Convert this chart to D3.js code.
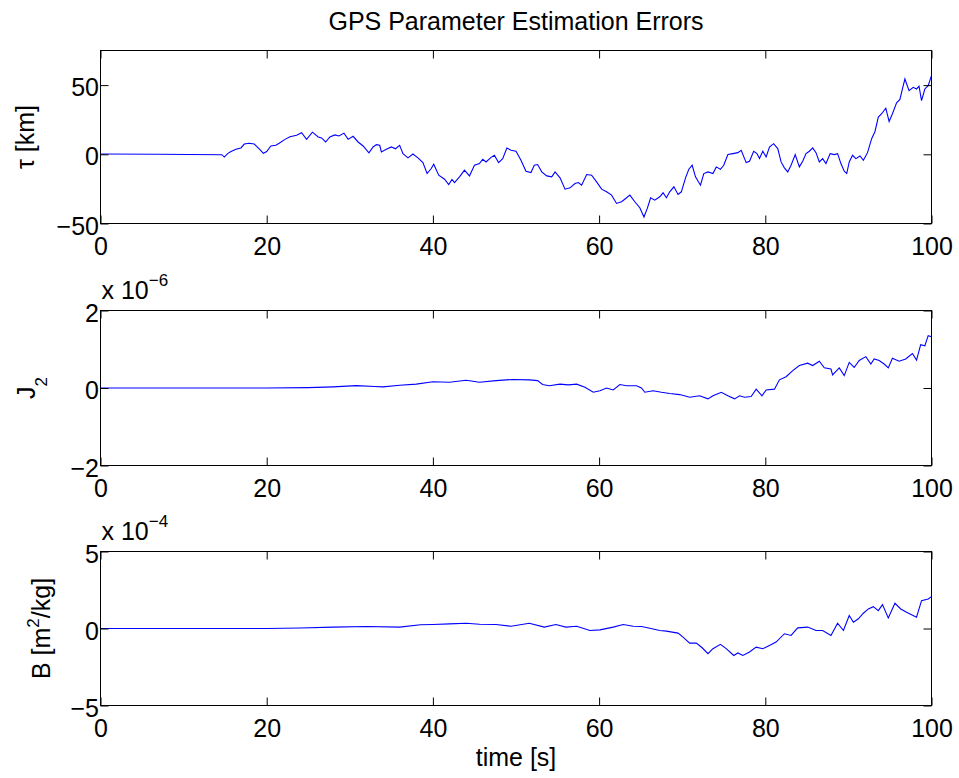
<!DOCTYPE html>
<html>
<head>
<meta charset="utf-8">
<script src="https://cdn.jsdelivr.net/npm/d3@7"></script>
<style>
  body { margin: 0; background: #ffffff; }
  svg { display: block; }
  text { font-family: "Liberation Sans", Arial, sans-serif; fill: #000; }
</style>
</head>
<body>
<svg id="chart" width="959" height="778"></svg>
<script>
const xTicks = [0, 20, 40, 60, 80, 100];

// tau [km]
const tauTicks = [-50, 0, 50];
const tauTime = [0, 7, 14.6, 14.9, 15.3, 15.7, 16.3, 16.9, 17.3, 17.9, 18.5, 19.1, 19.6, 20.0, 20.5, 21.1, 21.5, 22.2, 22.8, 23.6,
  24.2, 24.8, 25.5, 26.2, 26.6, 27.1, 27.6, 28.2, 28.7, 29.3, 29.8, 30.4, 31.0, 31.6, 32.3, 32.8, 33.2, 33.6, 33.8, 34.4,
  35.0, 35.5, 36.0, 36.4, 37.0, 37.6, 38.2, 38.8, 39.3, 39.8, 40.1, 40.7, 41.4, 41.9, 42.3, 42.6, 43.2, 43.8, 44.4, 45.0,
  45.6, 46.0, 46.4, 47.0, 47.4, 47.9, 48.4, 48.9, 49.4, 50.0, 50.6, 51.2, 51.8, 52.2, 52.6, 53.1, 53.7, 54.3, 54.7, 55.3,
  55.9, 56.5, 57.1, 57.5, 57.9, 58.5, 59.1, 59.7, 60.3, 60.9, 61.5, 62.1, 62.7, 63.2, 63.7, 64.3, 64.9, 65.4, 65.8, 66.2,
  66.7, 67.3, 67.7, 68.1, 68.5, 69.0, 69.5, 69.9, 70.4, 70.8, 71.2, 71.6, 72.2, 72.6, 73.1, 73.7, 74.1, 74.6, 75.0, 75.5,
  76.1, 76.7, 77.1, 77.7, 78.1, 78.6, 79.0, 79.3, 79.7, 80.1, 80.5, 81.0, 81.5, 81.9, 82.3, 82.7, 83.1, 83.6, 84.1, 84.5,
  84.9, 85.3, 85.7, 86.1, 86.5, 86.9, 87.3, 87.8, 88.3, 88.7, 89.1, 89.5, 89.8, 90.1, 90.5, 90.9, 91.4, 91.8, 92.3, 92.8,
  93.2, 93.6, 94.0, 94.5, 94.9, 95.3, 95.8, 96.2, 96.5, 96.8, 97.3, 97.8, 98.2, 98.5, 98.8, 99.2, 99.6, 100];
const tauValue = [0.2, 0, -0.3, -2, 0.5, 2, 3.6, 4.6, 7.4, 8, 7.4, 4, 0.7, 2, 6, 6.5, 8, 10.8, 12.7, 13.7,
  15.6, 10.8, 16, 12.5, 11.8, 8.9, 12.5, 14, 13.2, 15.3, 10.8, 13, 8.9, 6, 1, 5.3, 7, 6.5, 1.7, 3.6,
  5.3, 4, 6.5, 0.5, -2.6, 0.2, -2.6, -6, -13.9, -10.3, -7.2, -15.1, -18, -21.8, -18.2, -20.4, -16.3, -11.5, -15.6, -7.9,
  -6.7, -3.6, -5.5, -2.2, -0.7, -6, -3.1, 4.6, 2.9, 2.2, -4.3, -12.2, -13.2, -7.9, -7.4, -12.7, -15.6, -16.3, -12.7, -17,
  -25.2, -24.2, -21.1, -20.4, -22.3, -14.6, -15.1, -19.9, -25.2, -27.1, -29.5, -35.5, -34.3, -31.9, -29.5, -34.3, -38.6, -45.3, -39.1, -31.4,
  -33.1, -30.7, -27.8, -31.4, -27.1, -23.5, -29, -27.1, -17, -10.8, -7.9, -16.3, -22.3, -13.9, -12.7, -13.9, -9.1, -10.8, -7.9, -0.2,
  0.5, 1.2, 2.9, -6, -5, 2.2, 0.5, -3.1, 2.2, -1.9, 5.3, 7.7, 4.1, -5.5, -9.8, -12.7, -7.9, -0.2, -9.1, -5,
  0.5, 2.2, 4.6, 1.2, -5.5, -3.1, -6.7, 0.5, -0.2, 0.5, -6.7, -12.2, -13.9, -5.5, -0.7, -3.1, -1.2, -4.3, 1.2, 11.3,
  16.5, 26.9, 29.3, 33.3, 23.7, 29.3, 37.2, 39.6, 47.2, 54.4, 46, 48.4, 47.2, 49.2, 38.8, 47.2, 49.6, 56.8];

// J2, in units of 1e-6
const j2Exponent = -6;
const j2Ticks = [-2, 0, 2];
const j2Time = [0, 20, 25, 28, 30.8, 33, 34, 36, 38, 40, 42, 44, 45.6, 47.6, 49.6, 51.6, 52.6, 53.2, 54.0, 55.3,
  56.3, 57.3, 58.3, 59.3, 60.1, 60.9, 61.7, 62.5, 63.3, 64.5, 65.1, 65.5, 66.5, 67.5, 68.5, 69.7, 70.9, 72.1, 73.1, 73.7,
  74.7, 75.5, 76.3, 76.9, 77.5, 78.3, 78.9, 79.6, 80.1, 81.1, 81.7, 82.5, 83.3, 84.1, 85.1, 85.7, 86.5, 87.1, 87.9, 88.1,
  88.9, 89.5, 90.1, 90.7, 91.3, 92.1, 92.7, 93.1, 93.7, 94.3, 94.8, 95.3, 96.1, 96.9, 97.7, 98.2, 98.7, 99.2, 99.6, 100];
const j2Value = [0, 0, 0.01, 0.03, 0.06, 0.04, 0.03, 0.07, 0.1, 0.16, 0.15, 0.2, 0.15, 0.19, 0.22, 0.21, 0.19, 0.09, 0.06, 0.1,
  0.08, 0.1, 0.02, -0.11, -0.07, 0, -0.05, 0.09, 0.06, 0.06, 0, -0.11, -0.07, -0.11, -0.14, -0.17, -0.24, -0.2, -0.28, -0.2,
  -0.11, -0.2, -0.28, -0.2, -0.24, -0.22, -0.03, -0.2, -0.05, -0.03, 0.21, 0.29, 0.45, 0.58, 0.64, 0.58, 0.69, 0.52, 0.49, 0.34,
  0.52, 0.32, 0.66, 0.53, 0.71, 0.81, 0.62, 0.75, 0.71, 0.62, 0.52, 0.77, 0.69, 0.75, 0.89, 0.72, 1.12, 1.09, 1.35, 1.32];

// B [m^2/kg], in units of 1e-4
const bExponent = -4;
const bTicks = [-5, 0, 5];
const bTime = [0, 20, 24, 28, 32, 36, 38.5, 40, 42, 44, 45.6, 47.6, 49.4, 51.6, 53.4, 54.8, 56.0, 57.3, 58.9, 60.1,
  61.7, 62.9, 64.1, 65.1, 66.1, 67.3, 68.1, 69.5, 70.1, 70.9, 71.7, 72.4, 73.1, 73.7, 74.6, 75.3, 76.2, 76.7, 77.3, 78.1,
  78.9, 79.7, 80.5, 81.3, 82.3, 83.1, 83.9, 85.1, 86.1, 86.9, 87.9, 88.7, 89.4, 90.1, 90.6, 91.2, 91.8, 92.4, 93.0, 93.6,
  94.1, 94.8, 95.6, 96.3, 97.0, 98.2, 98.8, 99.6, 100];
const bValue = [0, 0, 0.03, 0.09, 0.13, 0.09, 0.24, 0.26, 0.3, 0.34, 0.28, 0.26, 0.15, 0.34, 0.09, 0.26, 0.09, 0.15, -0.13, -0.09,
  0.09, 0.26, 0.15, 0.13, 0.02, -0.13, -0.17, -0.3, -0.56, -0.95, -0.95, -1.25, -1.64, -1.31, -1.03, -1.31, -1.75, -1.59, -1.75, -1.53,
  -1.21, -1.31, -1.1, -0.88, -0.34, -0.45, 0.04, 0.09, -0.13, -0.13, -0.45, 0.34, -0.13, 0.84, 0.41, 0.63, 0.99, 1.27, 1.42, 1.16,
  1.55, 0.69, 1.64, 1.27, 1.06, 0.73, 1.81, 1.92, 2.07];

const drawChart = () => {
  let svg = d3.select("#chart");
  let left = 100.5, right = 931.5;
  let fontSize = 25;

  svg.append("rect").attr("width", 959).attr("height", 778).attr("fill", "#ffffff");

  let x = d3.scaleLinear().domain([0, 100]).range([left, right]);

  const drawPanel = (p) => {
    let y = d3.scaleLinear().domain(p.domain).range([p.bottom, p.top]);
    let g = svg.append("g");

    let pts = p.time.map((t, i) => [t, p.value[i]]);
    g.append("path")
      .datum(pts)
      .attr("fill", "none")
      .attr("stroke", "#0000ff")
      .attr("stroke-width", 1.1)
      .attr("d", d3.line().x(d => x(d[0])).y(d => y(d[1])));

    const styleAxis = (a) => {
      a.select(".domain").remove();
      a.selectAll(".tick line").attr("stroke", "#000").attr("stroke-width", 1);
      a.attr("font-family", "Liberation Sans, Arial, sans-serif").attr("font-size", fontSize);
    };

    g.append("g")
      .attr("transform", "translate(0," + p.bottom + ")")
      .call(d3.axisBottom(x).tickValues(xTicks).tickSize(-8).tickPadding(13.5).tickFormat(d3.format("d")))
      .call(styleAxis);
    g.append("g")
      .attr("transform", "translate(0," + p.top + ")")
      .call(d3.axisTop(x).tickValues(xTicks).tickSize(-8).tickFormat(""))
      .call(styleAxis);
    g.append("g")
      .attr("transform", "translate(" + left + ",0)")
      .call(d3.axisLeft(y).tickValues(p.ticks).tickSize(-8).tickPadding(1.5).tickFormat(d3.format("d")))
      .call(styleAxis)
      .selectAll("text").attr("dy", "0.42em");
    g.append("g")
      .attr("transform", "translate(" + right + ",0)")
      .call(d3.axisRight(y).tickValues(p.ticks).tickSize(-8).tickFormat(""))
      .call(styleAxis);

    g.append("rect")
      .attr("x", left).attr("y", p.top)
      .attr("width", right - left).attr("height", p.bottom - p.top)
      .attr("fill", "none").attr("stroke", "#000").attr("stroke-width", 1);

    if (p.exponent !== null) {
      let e = g.append("text")
        .attr("x", left + 1).attr("y", p.top - 11.5)
        .attr("font-size", fontSize);
      e.append("tspan").text("x 10");
      e.append("tspan").attr("dy", -13).attr("font-size", 17).text("\u2212" + Math.abs(p.exponent));
    }

    let lab = g.append("text")
      .attr("transform", "translate(" + p.labelX + "," + (p.top + p.bottom) / 2 + ") rotate(-90)")
      .attr("text-anchor", "middle")
      .attr("font-size", fontSize);
    p.label(lab);
  };

  drawPanel({
    time: tauTime, value: tauValue, ticks: tauTicks, domain: [-50, 75],
    top: 50.5, bottom: 223.5, exponent: null, labelX: 34,
    label: (t) => t.text("\u03c4 [km]")
  });
  drawPanel({
    time: j2Time, value: j2Value, ticks: j2Ticks, domain: [-2, 2],
    top: 310.5, bottom: 465.5, exponent: j2Exponent, labelX: 35,
    label: (t) => {
      t.append("tspan").text("J");
      t.append("tspan").attr("dy", 12).attr("font-size", 17).text("2");
    }
  });
  drawPanel({
    time: bTime, value: bValue, ticks: bTicks, domain: [-5, 5],
    top: 551.5, bottom: 705.5, exponent: bExponent, labelX: 50,
    label: (t) => {
      t.append("tspan").text("B [m");
      t.append("tspan").attr("dy", -11).attr("font-size", 17).text("2");
      t.append("tspan").attr("dy", 11).text("/kg]");
    }
  });

  svg.append("text")
    .attr("x", (left + right) / 2).attr("y", 30)
    .attr("text-anchor", "middle")
    .attr("font-size", fontSize)
    .text("GPS Parameter Estimation Errors");

  svg.append("text")
    .attr("x", (left + right) / 2).attr("y", 766)
    .attr("text-anchor", "middle")
    .attr("font-size", fontSize)
    .text("time [s]");
}

drawChart();
</script>
</body>
</html>
